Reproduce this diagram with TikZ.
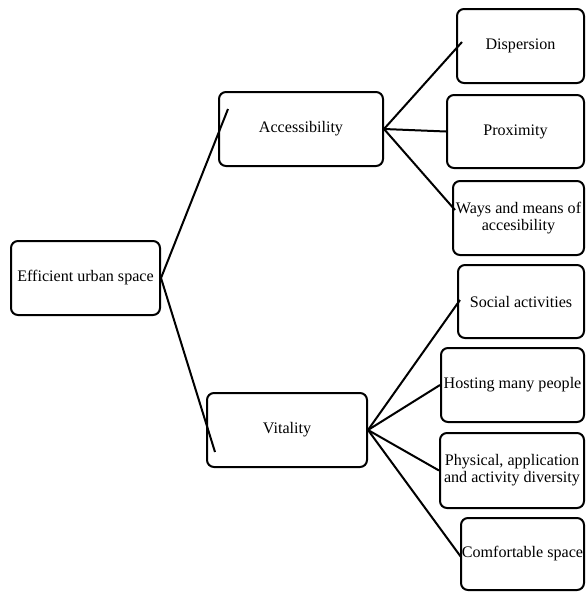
\documentclass[tikz,border=0pt]{standalone}
\usepackage{fontspec}
\setmainfont{Liberation Serif}
\begin{document}
\begin{tikzpicture}[x=1pt,y=-1pt,
  box/.style={draw=black,line width=2pt,rounded corners=7pt,inner sep=0pt,align=center,
    font=\fontsize{16.1}{17}\selectfont},
  link/.style={line width=2pt}]
\useasboundingbox (0,0) rectangle (586,592);
\node[box,minimum width=149pt,minimum height=74pt] (eff) at (85.5,278) {Efficient urban space};
\node[box,minimum width=164pt,minimum height=74pt] (acc) at (301,129) {Accessibility};
\node[box,minimum width=160pt,minimum height=74pt] (vit) at (287,430) {Vitality};
\node[box,minimum width=127pt,minimum height=74pt] (dis) at (520.5,46) {Dispersion};
\node[box,minimum width=137pt,minimum height=73pt] (pro) at (515.5,131.5) {Proximity};
\node[box,minimum width=131pt,minimum height=74pt] (way) at (518.5,218) {Ways and means of\\accesibility};
\node[box,minimum width=126pt,minimum height=73pt] (soc) at (521,301.5) {Social activities};
\node[box,minimum width=143pt,minimum height=74pt] (hos) at (512.5,385) {Hosting many people};
\node[box,minimum width=144pt,minimum height=75pt] (phy) at (512,470.5) {Physical, application\\and activity diversity};
\node[box,minimum width=123pt,minimum height=72pt] (com) at (522.5,554) {Comfortable space};
\coordinate (accin) at (228,109);
\coordinate (vitin) at (215,452);
\coordinate (disin) at (462,42);
\coordinate (wayin) at (455,210);
\coordinate (socin) at (460,300);
\coordinate (comin) at (461,557);
\draw[link] (eff.east) -- (accin);
\draw[link] (eff.east) -- (vitin);
\draw[link] (acc.east) -- (disin);
\draw[link] (acc.east) -- (pro.west);
\draw[link] (acc.east) -- (wayin);
\draw[link] (vit.east) -- (socin);
\draw[link] (vit.east) -- (hos.west);
\draw[link] (vit.east) -- (phy.west);
\draw[link] (vit.east) -- (comin);
\end{tikzpicture}
\end{document}
